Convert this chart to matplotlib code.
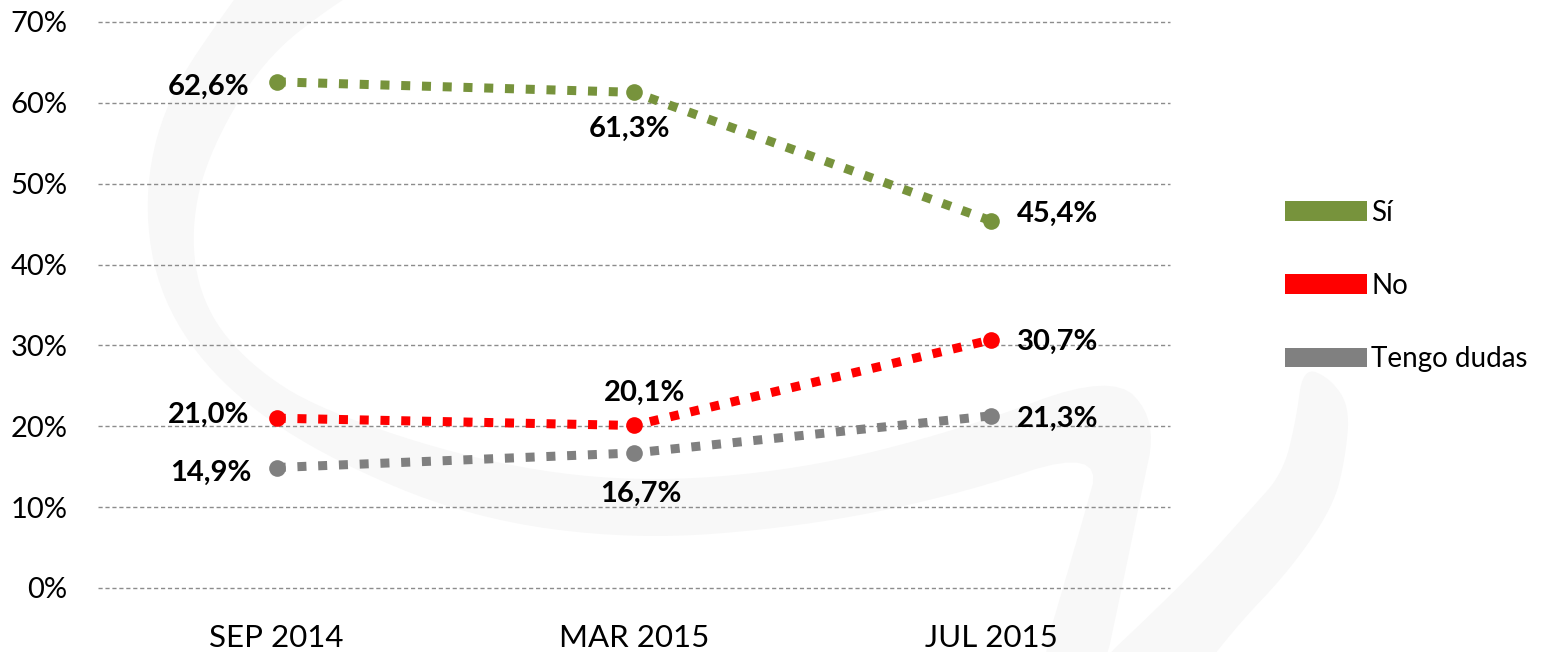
import matplotlib.pyplot as plt
from matplotlib.patches import Patch, Polygon

plt.rcParams["font.family"] = ["Lato", "DejaVu Sans"]

periods = ["SEP 2014", "MAR 2015", "JUL 2015"]
si = [62.6, 61.3, 45.4]
no = [21.0, 20.1, 30.7]
dudas = [14.9, 16.7, 21.3]
series_names = ["Sí", "No", "Tengo dudas"]
colors = ["#77933C", "#FF0000", "#808080"]

# label offsets in pixels (dx, dy, ha) per point
label_pos = [
    [(-27, -5, "right"), (-4, -37, "center"), (26, 7, "left")],
    [(-27, 3, "right"), (11, 33, "center"), (26, -2, "left")],
    [(-25, -5, "right"), (7, -41, "center"), (26, -3, "left")],
]

# faint background logo outline, in pixel coords (x, y from top), runs past the edges
swoosh_c = [(395, -30), (340, 0), (262, 60), (205, 160), (190, 240), (205, 310), (250, 365),
            (320, 410), (480, 462), (634, 483), (800, 470), (960, 430), (1112, 373), (1157, 420),
            (1140, 500), (1125, 573), (1098, 700), (1030, 700), (1080, 530), (1103, 447),
            (950, 497), (800, 527), (634, 540), (470, 518), (320, 455), (220, 385),
            (160, 300), (143, 200), (165, 100), (233, 0), (265, -40)]
swoosh_tail = [(1303, 367), (1330, 378), (1350, 407), (1345, 460), (1333, 507), (1290, 570),
               (1233, 630), (1180, 700), (1060, 700), (1187, 580), (1250, 510), (1283, 473),
               (1296, 420)]


def fmt(v: float) -> str:
    return f"{v:.1f}%".replace(".", ",")


def soften(pts, rounds=3):
    # chaikin corner cutting, just to round off the outline
    for _ in range(rounds):
        out = []
        n = len(pts)
        for k in range(n):
            (x0, y0), (x1, y1) = pts[k], pts[(k + 1) % n]
            out.append((0.75 * x0 + 0.25 * x1, 0.75 * y0 + 0.25 * y1))
            out.append((0.25 * x0 + 0.75 * x1, 0.25 * y0 + 0.75 * y1))
        pts = out
    return pts


fig = plt.figure(figsize=(15.42, 6.52), dpi=100)

wm = fig.add_axes([0, 0, 1, 1], zorder=0)
wm.set_xlim(0, 1542)
wm.set_ylim(652, 0)
wm.axis("off")
for shape in (swoosh_c, swoosh_tail):
    wm.add_patch(Polygon(soften(shape), closed=True, facecolor="#f8f8f8", edgecolor="none"))

ax = fig.add_axes([98 / 1542, 64 / 652, 1072 / 1542, 566 / 652], zorder=1)
ax.patch.set_alpha(0)

x = range(len(periods))
handles = []
for i, (vals, name, col) in enumerate(zip([si, no, dudas], series_names, colors)):
    ax.plot(x, vals, color=col, linewidth=6.5, linestyle=(0, (1, 1.3)), dash_capstyle="butt",
            marker="o", markersize=12, markeredgewidth=0, zorder=3)
    for j, v in enumerate(vals):
        dx, dy, ha = label_pos[i][j]
        ax.annotate(fmt(v), (j, v), xytext=(dx * 0.72, dy * 0.72), textcoords="offset points",
                    ha=ha, va="center", fontsize=21, fontweight="bold", color="black", zorder=4)
    handles.append(Patch(facecolor=col, edgecolor="none", label=name))

ax.set_xlim(-0.5, 2.5)
ax.set_ylim(0, 70)
ax.set_yticks(range(0, 71, 10))
ax.set_yticklabels([f"{t}%" for t in range(0, 71, 10)])
ax.set_xticks(list(x))
ax.set_xticklabels(periods)
ax.tick_params(axis="both", length=0, colors="black")
ax.tick_params(axis="y", pad=22, labelsize=21)
ax.tick_params(axis="x", pad=26, labelsize=22.5)
ax.yaxis.grid(True, color="#8c8c8c", linestyle=(0, (3, 2)), linewidth=1, clip_on=False)
ax.set_axisbelow(True)
for s in ax.spines.values():
    s.set_visible(False)

fig.legend(handles=handles, loc="center left", bbox_to_anchor=(1274 / 1542, 1 - 286 / 652),
           frameon=False, fontsize=20, handlelength=2.95, handleheight=0.72,
           handletextpad=0.15, labelspacing=1.7, borderaxespad=0)

fig.savefig("out.png", dpi=100)
